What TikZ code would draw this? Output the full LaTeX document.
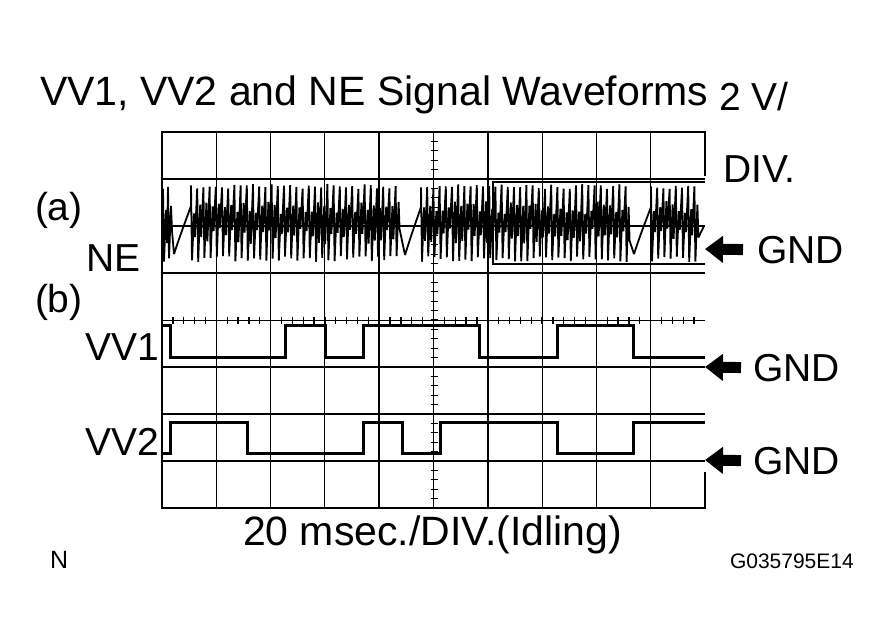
\documentclass[tikz,border=0pt]{standalone}
\usepackage{fontspec}
\setmainfont{Liberation Sans}
\usetikzlibrary{arrows.meta}

\begin{document}
\begin{tikzpicture}[x=1pt,y=-1pt,
  every node/.style={inner sep=0pt,outer sep=0pt,font=\fontsize{39}{40}\selectfont},
  big/.style={font=\fontsize{41}{42}\selectfont},
  small/.style={font=\fontsize{21}{22}\selectfont},
  heavy/.style={line width=1.6pt},
  light/.style={line width=0.9pt},
  tick/.style={line width=1.3pt},
  frame/.style={line width=2.3pt},
  pulse/.style={line width=3pt,line join=miter},
  wave/.style={line width=1.8pt,line join=miter,miter limit=2},
  gndarrow/.style={line width=11pt,-{Triangle[length=18pt,width=26pt]}}]
\useasboundingbox (0,0) rectangle (886,643);
\pgfmathsetseed{5}

% grid
\foreach \i in {1,...,9}{
  \pgfmathsetmacro\gx{162+54.3*\i}
  \ifodd\i \draw[light] (\gx,132) -- (\gx,508); \else \draw[heavy] (\gx,132) -- (\gx,508); \fi
}
\foreach \j in {1,2,3,5,6,7} \draw[heavy] (162,{132+47*\j}) -- (705,{132+47*\j});
\draw[light] (162,320) -- (705,320);
\foreach \k in {1,...,49} \draw[tick] ({162+10.86*\k},316.5) -- ({162+10.86*\k},323.5);
\foreach \k in {1,...,39} \draw[tick] (430.5,{132+9.4*\k}) -- (437.5,{132+9.4*\k});
\draw[frame] (705,176) -- (705,132) -- (162,132) -- (162,508) -- (705,508) -- (705,472);

% NE signal
\draw[wave] (162,226)
  \foreach \x in {163,168} {-- (\x,{184+5*rnd}) -- ({\x+1},{262-6*rnd}) -- ({\x+3},{200+14*rnd}) -- ({\x+4},{244-16*rnd})}
  -- (174,254) .. controls (180,236) .. (191,206)
  \foreach \x in {191,197.2,...,401} {-- (\x,{184+5*rnd}) -- ({\x+1},{262-6*rnd}) -- ({\x+3},{200+14*rnd}) -- ({\x+4},{244-16*rnd})}
  -- (405,255) .. controls (411,236) .. (421,207)
  \foreach \x in {421,427.2,...,629} {-- (\x,{184+5*rnd}) -- ({\x+1},{262-6*rnd}) -- ({\x+3},{200+14*rnd}) -- ({\x+4},{244-16*rnd})}
  -- (634,254) .. controls (640,236) .. (651,207)
  \foreach \x in {651,657.2,...,699} {-- (\x,{184+5*rnd}) -- ({\x+1},{262-6*rnd}) -- ({\x+3},{200+14*rnd}) -- ({\x+4},{244-16*rnd})}
  -- (704,226);
\draw[frame] (705,182) -- (493,182) -- (493,264) -- (705,264);

% VV1 and VV2 signals
\draw[pulse] (162,325) -- (170,325) -- (170,357) -- (285,357) -- (285,325) -- (325,325) -- (325,357) -- (363,357) -- (363,325)
  -- (479,325) -- (479,357) -- (557,357) -- (557,325) -- (633,325) -- (633,357) -- (705,357);
\draw[pulse] (162,453) -- (170,453) -- (170,422) -- (247,422) -- (247,453) -- (363,453) -- (363,422) -- (402,422) -- (402,453)
  -- (440,453) -- (440,422) -- (557,422) -- (557,453) -- (633,453) -- (633,422) -- (705,422);

% texts
\node[big,anchor=base west] (title) at (40,105) {VV1, VV2 and NE Signal Waveforms};
\node[anchor=base west] (voltsDiv) at (719,110) {2 V/};
\node[anchor=base west] (voltsUnit) at (723,182) {DIV.};
\node[anchor=base west] (labA) at (35,220) {(a)};
\node[anchor=base west] (labNE) at (86,271) {NE};
\node[anchor=base west] (labB) at (35,312) {(b)};
\node[anchor=base west] (labVVa) at (85,360) {VV1};
\node[anchor=base west] (labVVb) at (85,455) {VV2};
\node[big,anchor=base west] (timeDiv) at (243,545) {20 msec./DIV.(Idling)};
\node[font=\fontsize{25}{26}\selectfont,anchor=base west] (mark) at (50,568) {N};
\node[small,anchor=base west] (figId) at (730,568) {G035795E14};

% GND markers
\node[anchor=base west] (gndNE) at (757,263) {GND};
\node[anchor=base west] (gndVVa) at (753,381) {GND};
\node[anchor=base west] (gndVVb) at (753,474) {GND};
\coordinate (tipNE) at (705,249);
\coordinate (tipVVa) at (705,367);
\coordinate (tipVVb) at (705,460);
\draw[gndarrow] ([xshift=-14pt]gndNE.west) -- (tipNE);
\draw[gndarrow] ([xshift=-12pt]gndVVa.west) -- (tipVVa);
\draw[gndarrow] ([xshift=-12pt]gndVVb.west) -- (tipVVb);
\end{tikzpicture}
\end{document}
